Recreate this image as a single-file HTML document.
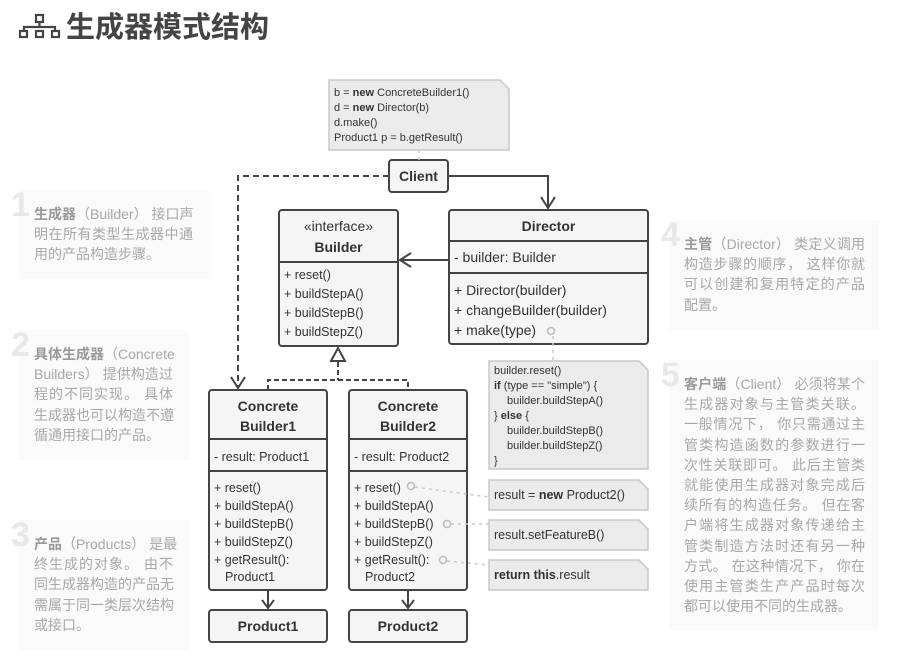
<!DOCTYPE html>
<html><head><meta charset="utf-8"><style>
body{margin:0;width:898px;height:669px;background:#fff;position:relative;overflow:hidden;font-family:"Liberation Sans","Noto Sans CJK SC",sans-serif}
.p{position:absolute;background:#fafafa;color:#a8a8a8;font-size:14px;line-height:20.2px;box-sizing:border-box;padding:14px 16px 0 15px;font-family:"Liberation Sans","Noto Sans CJK SC",sans-serif}
.p div{white-space:nowrap;text-align:justify;text-align-last:justify;text-justify:inter-character}
.p div.l{text-align-last:left}
.p b{color:#999;font-weight:bold}
.n{position:absolute;left:-8px;top:-2px;font-size:34px;font-weight:bold;color:#e8e8e8;line-height:34px}
h1{position:absolute;left:66px;top:4px;margin:0;font-size:29px;color:#444;font-family:"Noto Sans CJK SC",sans-serif;font-weight:bold}
svg text{font-family:"Liberation Sans",sans-serif}
</style></head><body>
<svg style="position:absolute;left:0;top:0" width="898" height="669">
<g fill="none" stroke="#444" stroke-width="2.2">
<rect x="36" y="15" width="7" height="7"/><path d="M39.5 22v5M24 31v-4h31v4"/>
<rect x="20" y="31" width="7" height="6"/><rect x="36" y="31" width="7" height="6"/><rect x="52" y="31" width="7" height="6"/>
</g>
</svg>
<h1>生成器模式结构</h1>

<div class="p" style="left:19px;top:190px;width:190px;height:89px"><span class="n">1</span><div><b>生成器</b>（Builder） 接口声</div><div>明在所有类型生成器中通</div><div class="l">用的产品构造步骤。</div></div>
<div class="p" style="left:19px;top:330px;width:170px;height:130px"><span class="n">2</span><div><b>具体生成器</b>（Concrete</div><div>Builders） 提供构造过</div><div>程的不同实现。 具体</div><div>生成器也可以构造不遵</div><div class="l">循通用接口的产品。</div></div>
<div class="p" style="left:19px;top:520px;width:170px;height:130px"><span class="n">3</span><div><b>产品</b>（Products） 是最</div><div>终生成的对象。 由不</div><div>同生成器构造的产品无</div><div>需属于同一类层次结构</div><div class="l">或接口。</div></div>
<div class="p" style="left:669px;top:220px;width:210px;height:110px;padding-right:14px"><span class="n">4</span><div><b>主管</b>（Director） 类定义调用</div><div>构造步骤的顺序， 这样你就</div><div>可以创建和复用特定的产品</div><div class="l">配置。</div></div>
<div class="p" style="left:669px;top:360px;width:210px;height:270px;padding-right:14px"><span class="n">5</span><div><b>客户端</b>（Client） 必须将某个</div><div>生成器对象与主管类关联。</div><div>一般情况下， 你只需通过主</div><div>管类构造函数的参数进行一</div><div>次性关联即可。 此后主管类</div><div>就能使用生成器对象完成后</div><div>续所有的构造任务。 但在客</div><div>户端将生成器对象传递给主</div><div>管类制造方法时还有另一种</div><div>方式。 在这种情况下， 你在</div><div>使用主管类生产产品时每次</div><div class="l">都可以使用不同的生成器。</div></div>

<svg style="position:absolute;left:0;top:0" width="898" height="669">
<g fill="#ebebeb" stroke="#c8c8c8" stroke-width="1.5">
<path d="M329 80h171l9 9v61h-180z"/>
<path d="M489 361h150l9 9v99h-159z"/>
<path d="M489 480h150l9 9v21h-159z"/>
<path d="M489 520h150l9 9v21h-159z"/>
<path d="M489 560h150l9 9v21h-159z"/>
</g>
<g font-size="11" fill="#333">
<text x="334" y="96">b = <tspan font-weight="bold">new</tspan> ConcreteBuilder1()</text>
<text x="334" y="111">d = <tspan font-weight="bold">new</tspan> Director(b)</text>
<text x="334" y="126">d.make()</text>
<text x="334" y="141">Product1 p = b.getResult()</text>
<text x="494" y="374">builder.reset()</text>
<text x="494" y="389"><tspan font-weight="bold">if</tspan> (type == "simple") {</text>
<text x="507" y="404">builder.buildStepA()</text>
<text x="494" y="419">} <tspan font-weight="bold">else</tspan> {</text>
<text x="507" y="434">builder.buildStepB()</text>
<text x="507" y="449">builder.buildStepZ()</text>
<text x="494" y="464">}</text>
</g>
<g font-size="12.5" fill="#333">
<text x="494" y="499">result = <tspan font-weight="bold">new</tspan> Product2()</text>
<text x="494" y="539">result.setFeatureB()</text>
<text x="494" y="579"><tspan font-weight="bold">return this</tspan>.result</text>
</g>
<g stroke="#444" stroke-width="2" fill="none">
<path d="M389 176H238v210" stroke-dasharray="6 4"/>
<path d="M231 377l7 11 7-11"/>
<path d="M448 176H548v32"/><path d="M541 197l7 11 7-11"/>
<path d="M449 260H400"/><path d="M411 253l-11 7 11 7"/>
<path d="M338 362v18M268 390v-10h140v10" stroke-dasharray="5 3"/>
<path d="M338 348l-7 13h14z" fill="#fff"/>
<path d="M268 591v17M262 600l6 8 6-8M408 591v17M402 600l6 8 6-8"/>
</g>
<g fill="#f5f5f5" stroke="#444" stroke-width="2">
<rect x="389" y="160" width="59" height="32" rx="3"/>
<rect x="279" y="210" width="119" height="136" rx="3"/>
<rect x="449" y="210" width="199" height="134" rx="3"/>
<rect x="209" y="390" width="118" height="200" rx="3"/>
<rect x="349" y="390" width="118" height="200" rx="3"/>
<rect x="209" y="610" width="118" height="32" rx="3"/>
<rect x="349" y="610" width="118" height="32" rx="3"/>
</g>
<g stroke="#444" stroke-width="2">
<path d="M279 262h119M449 241h199M449 273h199M209 439h118M209 471h118M349 439h118M349 471h118"/>
</g>
<g stroke="#c8c8c8" stroke-width="1.5" stroke-dasharray="3 4" fill="none">
<path d="M419 150v10"/><path d="M553 336v25"/>
<path d="M415 487L489 497"/><path d="M451 524H489"/><path d="M447 561L489 565"/>
</g>
<g stroke="#bbb" stroke-width="1.5" fill="#f5f5f5">
<circle cx="551" cy="331" r="3.5"/><circle cx="411" cy="486" r="3.5"/><circle cx="447" cy="524" r="3.5"/><circle cx="443" cy="560" r="3.5"/>
</g>
<g fill="#333" font-size="14" font-weight="bold" text-anchor="middle">
<text x="418.5" y="181">Client</text>
<text x="338.5" y="252">Builder</text>
<text x="548.5" y="231">Director</text>
<text x="268" y="411">Concrete</text><text x="268" y="431">Builder1</text>
<text x="408" y="411">Concrete</text><text x="408" y="431">Builder2</text>
<text x="268" y="631">Product1</text><text x="408" y="631">Product2</text>
</g>
<text x="338.5" y="231" font-size="14" fill="#333" text-anchor="middle">«interface»</text>
<g fill="#333" font-size="12.5">
<text x="284" y="279">+ reset()</text><text x="284" y="298">+ buildStepA()</text>
<text x="284" y="317">+ buildStepB()</text><text x="284" y="336">+ buildStepZ()</text>
<text x="214" y="461">- result: Product1</text>
<text x="214" y="492">+ reset()</text><text x="214" y="510">+ buildStepA()</text>
<text x="214" y="528">+ buildStepB()</text><text x="214" y="546">+ buildStepZ()</text>
<text x="214" y="564">+ getResult():</text><text x="225" y="581">Product1</text>
<text x="354" y="461">- result: Product2</text>
<text x="354" y="492">+ reset()</text><text x="354" y="510">+ buildStepA()</text>
<text x="354" y="528">+ buildStepB()</text><text x="354" y="546">+ buildStepZ()</text>
<text x="354" y="564">+ getResult():</text><text x="365" y="581">Product2</text>
</g>
<g fill="#333" font-size="14">
<text x="454" y="262">- builder: Builder</text>
<text x="454" y="295">+ Director(builder)</text>
<text x="454" y="315">+ changeBuilder(builder)</text>
<text x="454" y="335">+ make(type)</text>
</g>
</svg>
</body></html>
